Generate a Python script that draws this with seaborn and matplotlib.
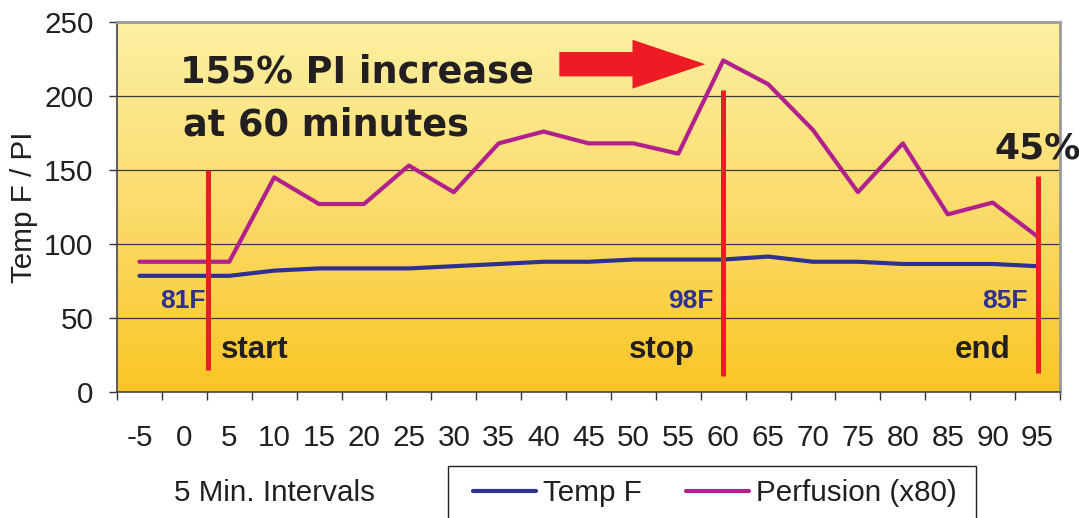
import numpy as np
import pandas as pd
import matplotlib
matplotlib.use("Agg")
import matplotlib.pyplot as plt
import seaborn as sns
from matplotlib.colors import LinearSegmentedColormap
from matplotlib.patches import FancyArrow, Rectangle
from matplotlib.lines import Line2D

# ---- data ----
intervals = ["-5", "0", "5", "10", "15", "20", "25", "30", "35", "40", "45",
             "50", "55", "60", "65", "70", "75", "80", "85", "90", "95"]
temp_f = [78.5, 78.5, 78.5, 82, 83.5, 83.5, 83.5, 85, 86.5, 88, 88,
          89.5, 89.5, 89.5, 91.5, 88, 88, 86.5, 86.5, 86.5, 85]
perfusion = [88, 88, 88, 145, 127, 127, 153, 135, 168, 176, 168,
             168, 161, 224, 208, 177, 135, 168, 120, 128, 105]
y_ticks = [0, 50, 100, 150, 200, 250]

sns.set_theme(style="white")
plt.rcParams["font.family"] = ["Liberation Sans", "DejaVu Sans"]

BLUE = "#2E3192"
MAGENTA = "#B2208E"
RED = "#ED1C24"
TXT = "#231F20"
FS = 21.3

W, H = 1079, 518
fig = plt.figure(figsize=(W / 100, H / 100), dpi=100)
ax = fig.add_axes([117 / W, 1 - 392 / H, (1060 - 117) / W, (392 - 22) / H])

# gradient background (light at top, deep yellow at bottom)
cmap = LinearSegmentedColormap.from_list("bg", ["#FCF0A2", "#FBDC6C", "#F9C624"])
grad = np.linspace(0, 1, 256).reshape(-1, 1)
ax.imshow(grad, aspect="auto", cmap=cmap, extent=[0, 1, 0, 1],
          transform=ax.transAxes, zorder=0)

x = np.arange(len(intervals))
df = pd.DataFrame({"x": np.concatenate([x, x]),
                   "value": temp_f + perfusion,
                   "series": ["Temp F"] * len(x) + ["Perfusion (x80)"] * len(x)})
sns.lineplot(data=df, x="x", y="value", hue="series",
             palette={"Temp F": BLUE, "Perfusion (x80)": MAGENTA},
             linewidth=3.0, legend=False, ax=ax, zorder=3)

ax.set_xlim(-0.5, len(intervals) - 0.5)
ax.set_ylim(0, 250)

# grid
for yv in y_ticks[1:-1]:
    ax.axhline(yv, color="#3a3a3a", linewidth=0.9, zorder=1)

# ticks
ax.set_yticks(y_ticks)
ax.set_yticklabels([str(v) for v in y_ticks], fontsize=FS, color=TXT)
ax.set_xticks(x)
ax.set_xticklabels(intervals, fontsize=FS, color=TXT)
ax.set_xticks(np.arange(-0.5, len(intervals), 1.0), minor=True)
ax.tick_params(axis="x", which="major", length=0, pad=23)
ax.tick_params(axis="x", which="minor", length=6, width=1, color="#333333", direction="out", bottom=True)
ax.tick_params(axis="y", which="major", length=6, width=1, color="#333333", direction="out", left=True, pad=11)

for s in ["left", "bottom"]:
    ax.spines[s].set_color("#444444")
    ax.spines[s].set_linewidth(1.2)
for s in ["top", "right"]:
    ax.spines[s].set_color("#9a9a9a")
    ax.spines[s].set_linewidth(2.0)

ax.set_xlabel("")
ax.set_ylabel("Temp F / PI", fontsize=FS, color=TXT, labelpad=4)

# red event lines
ax.plot([1.53, 1.53], [150, 15], color=RED, linewidth=3.6, zorder=4, solid_capstyle="butt")
ax.plot([13, 13], [204, 11], color=RED, linewidth=3.6, zorder=4, solid_capstyle="butt")
ax.plot([20, 20], [146, 13], color=RED, linewidth=3.6, zorder=4, solid_capstyle="butt")

# red arrow
ax.add_patch(FancyArrow(9.35, 221.5, 3.25, 0, width=16.5, head_width=33,
                        head_length=1.62, length_includes_head=True,
                        color=RED, zorder=5, linewidth=0))

heavy = dict(fontweight="bold", color=TXT, va="baseline", family="DejaVu Sans")
ax.text(0.9, 209, "155% PI increase", fontsize=26.4, ha="left", **heavy)
ax.text(0.97, 173.6, "at 60 minutes", fontsize=26.4, ha="left", **heavy)
ax.text(19.03, 158, "45%", fontsize=26.0, ha="left", **heavy)
bold = dict(fontweight="bold", color=TXT, va="baseline")
ax.text(1.82, 23, "start", fontsize=22.5, ha="left", **bold)
ax.text(10.9, 23, "stop", fontsize=22.5, ha="left", **bold)
ax.text(18.16, 23, "end", fontsize=22.5, ha="left", **bold)

blue_lbl = dict(fontweight="bold", color=BLUE, va="baseline", ha="right", fontsize=19)
ax.text(1.48, 57, "81F", **blue_lbl)
ax.text(12.78, 57, "98F", **blue_lbl)
ax.text(19.77, 57, "85F", **blue_lbl)

fig.text(275 / W, 1 - 493 / H, "5 Min. Intervals", fontsize=FS, color=TXT,
         ha="center", va="center")

# legend box (extends below the figure edge)
fig.patches.append(Rectangle((448 / W, 1 - 540 / H), (976 - 448) / W, (540 - 466) / H,
                             transform=fig.transFigure, facecolor="white",
                             edgecolor="#222222", linewidth=1.0, zorder=1))
handles = [Line2D([], [], color=BLUE, linewidth=3.0),
           Line2D([], [], color=MAGENTA, linewidth=3.0)]
leg = fig.legend(handles, ["Temp F", "Perfusion (x80)"], loc="center left",
                 bbox_to_anchor=(473 / W, 1 - 493 / H), ncol=2, fontsize=FS,
                 frameon=False, handlelength=2.13, handletextpad=0.24,
                 columnspacing=1.49, borderpad=0, borderaxespad=0)
leg.set_zorder(2)
for t in leg.get_texts():
    t.set_color(TXT)

fig.savefig("out.png", dpi=100, facecolor="white")
